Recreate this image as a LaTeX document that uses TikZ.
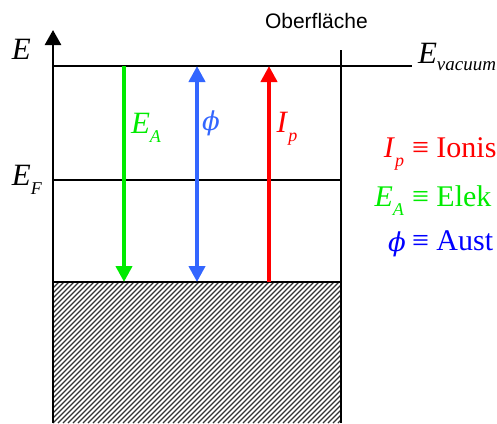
\documentclass[tikz,border=0pt]{standalone}
\usepackage{fontspec}
\setmainfont{Liberation Serif}
\setsansfont{Liberation Sans}
\newfontfamily\greekfont{DejaVu Serif}
\usepackage{xcolor}
\definecolor{eagreen}{RGB}{0, 235, 0}
\definecolor{phiblue}{RGB}{51, 102, 255}
\definecolor{legblue}{RGB}{0, 0, 255}
\definecolor{ipred}{RGB}{255, 0, 0}
\usetikzlibrary{arrows.meta,positioning}
\newcommand{\lvl}[2]{\textit{#1}\raisebox{-9pt}{\fontsize{18}{18}\selectfont\textit{#2}}}
\newcommand{\wphi}{{\greekfont\itshape ϕ}}

\begin{document}
\begin{tikzpicture}[
  x=1pt, y=-1pt,
  every node/.style={inner sep=0pt, outer sep=0pt},
  level/.style={line width=2.6pt, color=black},
  axisarrow/.style={-{Triangle[length=15pt, width=16pt]}, line width=2.6pt},
  transarrow/.style={line width=4.5pt},
  bigtext/.style={font=\fontsize{31}{31}\selectfont},
  legtext/.style={font=\fontsize{30}{30}\selectfont},
  hatchline/.style={line width=1.3pt, color=black!80}
]
\useasboundingbox (0,0) rectangle (497,423);

% Coordinates of the band diagram
\coordinate (ybot) at (53,423);
\coordinate (ytop) at (53,30);
\coordinate (vacL) at (53,66);
\coordinate (vacR) at (412,66);
\coordinate (surfT) at (341,50);
\coordinate (surfB) at (341,423);
\coordinate (fermiL) at (53,180);
\coordinate (fermiR) at (341,180);
\coordinate (vbL) at (53,282);
\coordinate (vbR) at (341,282);

% Filled band (hatched)
\begin{scope}
  \clip (vbL) rectangle (surfB);
  \foreach \i in {0,5,...,480} {
    \draw[hatchline] (53+\i-150,423) -- (53+\i,273);
  }
\end{scope}

% Levels
\draw[axisarrow] (ybot) -- (ytop);
\draw[level] (vacL) -- (vacR);
\draw[level] (surfT) -- (surfB);
\draw[level] (fermiL) -- (fermiR);
\draw[level] (vbL) -- (vbR);

% Transitions
\coordinate (eaT) at (124,66);
\coordinate (eaB) at (124,282);
\coordinate (phiT) at (197,66);
\coordinate (phiB) at (197,282);
\coordinate (ipT) at (269,66);
\coordinate (ipB) at (269,282);
\draw[transarrow, -{Triangle[length=16pt, width=16pt]}, color=eagreen] (eaT) -- (eaB);
\draw[transarrow, {Triangle[length=16pt, width=16pt]}-{Triangle[length=16pt, width=16pt]}, color=phiblue] (phiT) -- (phiB);
\draw[transarrow, -{Triangle[length=16pt, width=16pt]}, color=ipred] (ipB) -- (ipT);

% Labels
\node[bigtext, anchor=base west] (elabel) at (12,59) {\textit{E}};
\node[bigtext, anchor=base west] (eflabel) at (12,185) {\lvl{E}{F}};
\node[bigtext, anchor=base west] (evaclabel) at (418,63) {\textit{E}\raisebox{-7pt}{\fontsize{19}{19}\selectfont\textit{vacuum}}};
\node[font=\sffamily\fontsize{21}{21}\selectfont, anchor=base west] (surface) at (265,28) {Oberfläche};
\node[bigtext, anchor=center, color=eagreen] (ealabel) at (146,128) {\lvl{E}{A}};
\node[font=\fontsize{26}{26}\selectfont, anchor=center, color=phiblue] (philabel) at (211,123) {\wphi};
\node[bigtext, anchor=center, color=ipred] (iplabel) at (287,129) {\lvl{I}{p}};

% Legend
\node[legtext, anchor=base east, color=ipred] (ipsym) at (404,157) {\lvl{I}{p}};
\node[legtext, anchor=base west, color=ipred] (iptxt) at (412,157) {≡ Ionis};
\node[legtext, anchor=base east, color=eagreen] (easym) at (404,206) {\lvl{E}{A}};
\node[legtext, anchor=base west, color=eagreen] (eatxt) at (412,206) {≡ Elek};
\node[font=\fontsize{26}{26}\selectfont, anchor=center, color=legblue] (phisym) at (397,244) {\wphi};
\node[legtext, anchor=base west, color=legblue] (phitxt) at (412,250) {≡ Aust};

\end{tikzpicture}
\end{document}
